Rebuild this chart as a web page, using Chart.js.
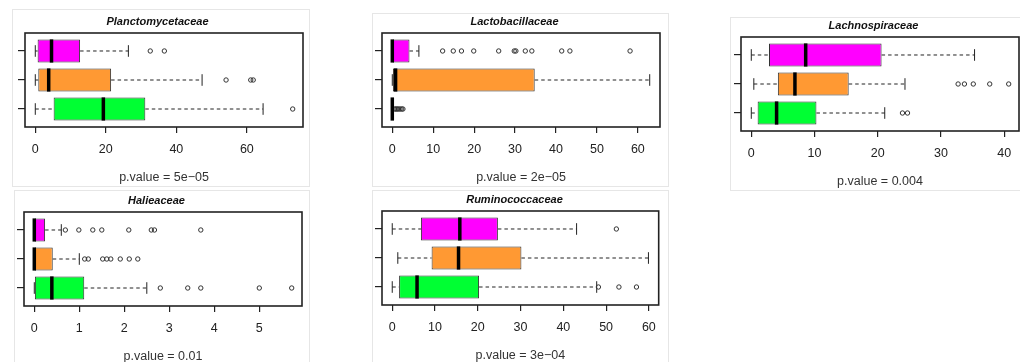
<!DOCTYPE html>
<html>
<head>
<meta charset="utf-8">
<script src="https://cdn.jsdelivr.net/npm/chart.js@4.4.0/dist/chart.umd.min.js"></script>
<style>
  body { margin: 0; width: 1020px; height: 362px; overflow: hidden; position: relative; background: #fff; }
  .frame { position: absolute; border: 1px solid #e6e6e6; }
  .panel { position: absolute; }
</style>
</head>
<body>
<div class="frame" style="left:12px;top:9px;width:296px;height:176px"></div>
<div class="frame" style="left:372px;top:13px;width:295px;height:172px"></div>
<div class="frame" style="left:730px;top:17px;width:300px;height:172px"></div>
<div class="frame" style="left:14px;top:190px;width:294px;height:180px"></div>
<div class="frame" style="left:372px;top:190px;width:295px;height:180px"></div>

<div class="panel" style="left:12px;top:9px"><canvas id="plancto" width="296" height="176"></canvas></div>
<div class="panel" style="left:369px;top:9px"><canvas id="lacto" width="296" height="176"></canvas></div>
<div class="panel" style="left:728px;top:13px"><canvas id="lachno" width="296" height="176"></canvas></div>
<div class="panel" style="left:11px;top:188px"><canvas id="halie" width="296" height="176"></canvas></div>
<div class="panel" style="left:369px;top:187px"><canvas id="rumino" width="296" height="176"></canvas></div>

<script>
// rows from bottom to top: green, orange, magenta
const rows = [1, 2, 3];
const rowFill = ['#00ff33', '#ff9933', '#ff00ff'];

// per row: [low whisker, Q1, median, Q3, high whisker]
const planctoStats = [[0, 5.2, 19.3, 31.2, 64.6], [0, 0.85, 3.8, 21.5, 47.3], [0, 0.66, 4.6, 12.7, 26.4]];
const planctoOut = [[73.0], [54.1, 61.1, 61.8], [32.6, 36.6]];
const planctoTicks = [0, 20, 40, 60];

const lactoStats = [[0, 0, 0, 0, 0], [0, 0, 0.8, 34.8, 62.9], [0, 0, 0, 4.2, 6.5]];
const lactoOut = [[0.6, 0.9, 1.2, 1.5, 1.9, 2.3, 2.6], [], [12.3, 14.9, 16.9, 19.9, 26.0, 29.8, 30.2, 32.5, 34.1, 41.4, 43.4, 58.1]];
const lactoTicks = [0, 10, 20, 30, 40, 50, 60];

const lachnoStats = [[0, 1.0, 4.0, 10.3, 21.1], [0.4, 4.2, 6.9, 15.4, 24.3], [0, 2.8, 8.6, 20.6, 35.3]];
const lachnoOut = [[23.9, 24.7], [32.7, 33.7, 35.1, 37.7, 40.7], []];
const lachnoTicks = [0, 10, 20, 30, 40];

const halieStats = [[0, 0, 0.39, 1.11, 2.5], [0, 0, 0, 0.41, 1.0], [0, 0, 0, 0.24, 0.6]];
const halieOut = [[2.8, 3.41, 3.7, 5.0, 5.72], [1.12, 1.2, 1.52, 1.61, 1.7, 1.91, 2.11, 2.3], [0.69, 0.99, 1.3, 1.5, 2.1, 2.6, 2.67, 3.7]];
const halieTicks = [0, 1, 2, 3, 4, 5];

const ruminoStats = [[0, 1.6, 5.8, 20.3, 47.8], [1.3, 9.2, 15.5, 30.2, 59.9], [0, 6.7, 15.8, 24.7, 43.1]];
const ruminoOut = [[48.2, 53.0, 57.1], [], [52.4]];
const ruminoTicks = [0, 10, 20, 30, 40, 50, 60];

const FONT = '"Liberation Sans", Arial, Helvetica, sans-serif';

// whiskers, staples and medians drawn on top of the chart scales
const boxParts = {
  id: 'boxParts',
  beforeDatasetsDraw(chart, args, opts) {
    const {ctx, scales: {x, y}} = chart;
    ctx.save();
    ctx.strokeStyle = '#222';
    ctx.lineWidth = 1;
    opts.stats.forEach((s, i) => {
      const yc = y.getPixelForValue(rows[i]);
      const half = Math.abs(y.getPixelForValue(rows[i] + 0.2) - yc);
      const [lo, q1, , q3, hi] = s.map(v => x.getPixelForValue(v));
      ctx.setLineDash([3.5, 3]);
      ctx.beginPath();
      ctx.moveTo(lo, yc); ctx.lineTo(q1, yc);
      ctx.moveTo(q3, yc); ctx.lineTo(hi, yc);
      ctx.stroke();
      ctx.setLineDash([]);
      ctx.beginPath();
      ctx.moveTo(lo, yc - half); ctx.lineTo(lo, yc + half);
      ctx.moveTo(hi, yc - half); ctx.lineTo(hi, yc + half);
      ctx.stroke();
    });
    ctx.restore();
  },
  afterDatasetsDraw(chart, args, opts) {
    const {ctx, scales: {x, y}} = chart;
    ctx.save();
    ctx.strokeStyle = '#000';
    ctx.lineWidth = 3.5;
    opts.stats.forEach((s, i) => {
      const yc = y.getPixelForValue(rows[i]);
      const half = Math.abs(y.getPixelForValue(rows[i] + 0.4) - yc);
      const m = x.getPixelForValue(s[2]);
      ctx.beginPath();
      ctx.moveTo(m, yc - half); ctx.lineTo(m, yc + half);
      ctx.stroke();
    });
    const a = chart.chartArea;
    ctx.strokeStyle = '#222';
    ctx.lineWidth = 1.6;
    ctx.strokeRect(a.left, a.top, a.right - a.left, a.bottom - a.top);
    ctx.restore();
  }
};

function makePanel(id, title, pval, stats, outliers, ticks) {
  const all = stats.flat().concat(outliers.flat());
  const lo = Math.min(...all), hi = Math.max(...all);
  const pad = (hi - lo) * 0.04;

  const points = [];
  outliers.forEach((list, i) => list.forEach(v => points.push({x: v, y: rows[i]})));

  return new Chart(document.getElementById(id), {
    type: 'bar',
    data: {
      datasets: [{
        type: 'bar',
        indexAxis: 'y',
        data: stats.map((s, i) => ({x: [s[1], s[3]], y: rows[i]})),
        backgroundColor: rowFill,
        borderColor: '#333',
        borderWidth: 1,
        borderSkipped: false,
        barPercentage: 0.8,
        categoryPercentage: 1
      }, {
        type: 'scatter',
        data: points,
        pointStyle: 'circle',
        pointRadius: 2.2,
        pointBorderWidth: 1,
        pointBorderColor: '#333',
        pointBackgroundColor: 'rgba(0,0,0,0)'
      }]
    },
    options: {
      responsive: false,
      animation: false,
      layout: {padding: {left: 0, right: 5, top: 0, bottom: 0}},
      plugins: {
        legend: {display: false},
        tooltip: {enabled: false},
        title: {
          display: true, text: title, color: '#111',
          font: {family: FONT, size: 11, weight: 'bold', style: 'italic'},
          padding: {top: 6, bottom: 4.8}
        },
        boxParts: {stats: stats}
      },
      scales: {
        x: {
          type: 'linear', position: 'bottom', offset: false,
          min: lo - pad, max: hi + pad,
          afterBuildTicks: s => { s.ticks = ticks.map(v => ({value: v})); },
          afterFit: s => { s.height = 58; },
          grid: {offset: false, drawOnChartArea: false, drawTicks: true, tickLength: 6, color: '#222', lineWidth: 1.2},
          border: {display: false},
          ticks: {color: '#222', font: {family: FONT, size: 12.5}, padding: 9, maxRotation: 0, autoSkip: false},
          title: {display: true, text: pval, color: '#333', font: {family: FONT, size: 12.5}, padding: 0}
        },
        y: {
          type: 'linear', position: 'left', offset: false,
          min: 0.38, max: 3.62,
          afterBuildTicks: s => { s.ticks = rows.map(v => ({value: v})); },
          afterFit: s => { s.width = 13; },
          grid: {offset: false, drawOnChartArea: false, drawTicks: true, tickLength: 7, color: '#222', lineWidth: 1.2},
          border: {display: false},
          ticks: {display: false}
        }
      }
    },
    plugins: [boxParts]
  });
}

makePanel('plancto', 'Planctomycetaceae', 'p.value = 5e\u221205', planctoStats, planctoOut, planctoTicks);
makePanel('lacto', 'Lactobacillaceae', 'p.value = 2e\u221205', lactoStats, lactoOut, lactoTicks);
makePanel('lachno', 'Lachnospiraceae', 'p.value = 0.004', lachnoStats, lachnoOut, lachnoTicks);
makePanel('halie', 'Halieaceae', 'p.value = 0.01', halieStats, halieOut, halieTicks);
makePanel('rumino', 'Ruminococcaceae', 'p.value = 3e\u221204', ruminoStats, ruminoOut, ruminoTicks);
</script>
</body>
</html>
